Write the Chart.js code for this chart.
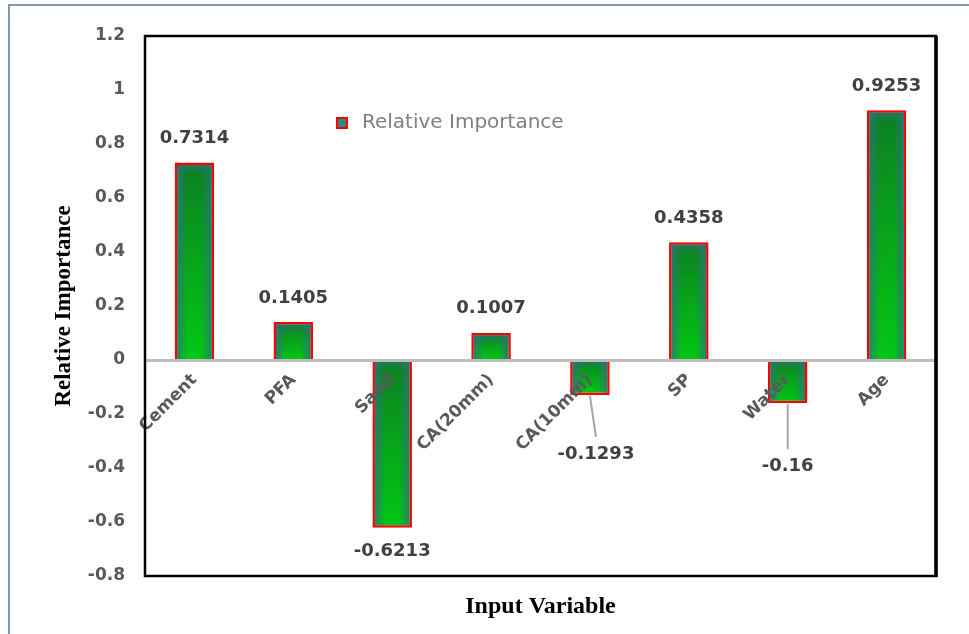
<!DOCTYPE html>
<html>
<head>
<meta charset="utf-8">
<title>Relative Importance</title>
<script src="https://cdn.jsdelivr.net/npm/chart.js@4/dist/chart.umd.min.js"></script>
<style>
    html, body { margin: 0; padding: 0; background: #fff; }
    #marco {
        position: absolute; left: 8px; top: 4px; width: 961px; height: 630px;
        border-left: 2px solid #8497b0; border-top: 2px solid #8497b0;
        box-sizing: border-box;
    }
    #contenedor { position: absolute; left: 0; top: 0; width: 969px; height: 634px; }
</style>
</head>
<body>
<div id="marco"></div>
<div id="contenedor"><canvas id="graficoImportancia" width="969" height="634"></canvas></div>
<script>
// Datos del gráfico
const variables = ['Cement', 'PFA', 'Sand', 'CA(20mm)', 'CA(10mm)', 'SP', 'Water', 'Age'];
const importancia = [0.7314, 0.1405, -0.6213, 0.1007, -0.1293, 0.4358, -0.16, 0.9253];
const ejeMin = -0.8;
const ejeMax = 1.2;
const ejePaso = 0.2;

// Relleno degradado de cada barra (oscuro arriba, verde vivo abajo)
function rellenoBarra(context) {
    const chart = context.chart;
    const escalaY = chart.scales.y;
    if (!escalaY || !chart.chartArea) return '#0a9a1a';
    const v = context.raw;
    const arriba = escalaY.getPixelForValue(Math.max(v, 0));
    const abajo = escalaY.getPixelForValue(Math.min(v, 0));
    const g = chart.ctx.createLinearGradient(0, arriba, 0, abajo);
    g.addColorStop(0, '#0b7f22');
    g.addColorStop(0.5, '#07a51a');
    g.addColorStop(1, '#02c814');
    return g;
}

// Bordes verdeazulados dentro de cada barra
const sombraBarras = {
    id: 'sombraBarras',
    afterDatasetsDraw(chart) {
        const ctx = chart.ctx;
        const meta = chart.getDatasetMeta(0);
        meta.data.forEach(bar => {
            const p = bar.getProps(['x', 'y', 'base', 'width'], true);
            const izq = p.x - p.width / 2 + 2.5;
            const der = p.x + p.width / 2 - 2.5;
            const top = Math.min(p.y, p.base) + (p.y < p.base ? 2.5 : 0);
            const bot = Math.max(p.y, p.base) - (p.y > p.base ? 2.5 : 0);
            const g = ctx.createLinearGradient(izq, 0, der, 0);
            g.addColorStop(0, 'rgba(45,115,125,0.8)');
            g.addColorStop(0.3, 'rgba(45,115,125,0)');
            g.addColorStop(0.7, 'rgba(45,115,125,0)');
            g.addColorStop(1, 'rgba(45,115,125,0.8)');
            ctx.save();
            ctx.fillStyle = g;
            ctx.fillRect(izq, top, der - izq, bot - top);
            // franja superior algo más apagada
            const gv = ctx.createLinearGradient(0, top, 0, top + 10);
            gv.addColorStop(0, 'rgba(45,115,125,0.6)');
            gv.addColorStop(1, 'rgba(45,115,125,0)');
            ctx.fillStyle = gv;
            ctx.fillRect(izq, top, der - izq, Math.min(10, bot - top));
            ctx.restore();
        });
    }
};

// Etiquetas de valor sobre/bajo las barras, con líneas guía opcionales
const etiquetasValor = {
    id: 'etiquetasValor',
    afterDraw(chart, args, opts) {
        const ctx = chart.ctx;
        const meta = chart.getDatasetMeta(0);
        const datos = chart.data.datasets[0].data;
        ctx.save();
        ctx.font = opts.font;
        ctx.fillStyle = opts.color;
        ctx.textAlign = 'center';
        ctx.textBaseline = 'middle';
        meta.data.forEach((bar, i) => {
            const v = datos[i];
            const p = bar.getProps(['x', 'y'], true);
            const guia = opts.guias[i];
            let tx = p.x;
            let ty = v >= 0 ? p.y - opts.separacion : p.y + opts.separacion;
            if (guia) {
                tx = p.x + guia.dx;
                ty = p.y + guia.dy;
                ctx.strokeStyle = '#a6a6a6';
                ctx.lineWidth = 2;
                ctx.beginPath();
                ctx.moveTo(p.x, p.y + 1);
                ctx.lineTo(tx, ty - 17);
                ctx.stroke();
            }
            ctx.fillText(v.toString(), tx, ty);
        });
        ctx.restore();
    }
};

// Marco negro del área de trazado y título del eje horizontal
const marcoArea = {
    id: 'marcoArea',
    afterDraw(chart, args, opts) {
        const a = chart.chartArea;
        const ctx = chart.ctx;
        ctx.save();
        ctx.strokeStyle = '#000';
        ctx.lineWidth = 2.5;
        ctx.strokeRect(a.left, a.top, a.right - a.left, a.bottom - a.top);
        ctx.lineWidth = 3.5;
        ctx.beginPath();
        ctx.moveTo(a.right, a.top);
        ctx.lineTo(a.right, a.bottom + 1);
        ctx.stroke();
        ctx.font = opts.font;
        ctx.fillStyle = '#000';
        ctx.textAlign = 'center';
        ctx.textBaseline = 'middle';
        ctx.fillText(opts.titulo, (a.left + a.right) / 2, a.bottom + opts.separacion);
        ctx.restore();
    }
};

// Leyenda dentro del área de trazado
const leyendaInterior = {
    id: 'leyendaInterior',
    afterDraw(chart, args, opts) {
        const a = chart.chartArea;
        const ctx = chart.ctx;
        const x = a.left + opts.dx;
        const y = a.top + opts.dy;
        ctx.save();
        ctx.fillStyle = '#2e8b80';
        ctx.fillRect(x, y - 5, 10, 10);
        ctx.strokeStyle = '#ff0000';
        ctx.lineWidth = 2;
        ctx.strokeRect(x, y - 5, 10, 10);
        ctx.font = opts.font;
        ctx.fillStyle = '#808080';
        ctx.textBaseline = 'middle';
        ctx.fillText(chart.data.datasets[0].label, x + 25, y);
        ctx.restore();
    }
};

function generarGraficoImportancia() {
    const ctx = document.getElementById('graficoImportancia').getContext('2d');

    const data = {
        labels: variables,
        datasets: [{
            label: 'Relative Importance',
            data: importancia,
            backgroundColor: rellenoBarra,
            borderColor: '#ff0000',
            borderWidth: 2.5,
            categoryPercentage: 0.8,
            barPercentage: 0.5
        }]
    };

    const config = {
        type: 'bar',
        data: data,
        plugins: [sombraBarras, etiquetasValor, marcoArea, leyendaInterior],
        options: {
            responsive: false,
            animation: false,
            layout: {
                padding: { top: 36, right: 33, left: 0, bottom: 58 }
            },
            scales: {
                x: {
                    position: { y: 0 },
                    grid: { display: false, drawTicks: false },
                    border: { display: true, color: '#bfbfbf', width: 3, z: 1 },
                    ticks: {
                        z: 1,
                        minRotation: 45,
                        maxRotation: 45,
                        padding: 10,
                        color: '#595959',
                        font: { family: 'DejaVu Sans', size: 17, weight: 'bold' }
                    }
                },
                y: {
                    min: ejeMin,
                    max: ejeMax,
                    afterFit(scale) { scale.width = 145; },
                    grid: { display: false, drawTicks: false },
                    border: { display: false },
                    ticks: {
                        stepSize: ejePaso,
                        padding: 20,
                        color: '#595959',
                        font: { family: 'DejaVu Sans', size: 17, weight: 'bold' },
                        callback: v => Number(v.toFixed(1)).toString()
                    },
                    title: {
                        display: true,
                        text: 'Relative Importance',
                        color: '#000',
                        padding: { top: 50, bottom: 0 },
                        font: { family: 'Liberation Serif', size: 23, weight: 'bold' }
                    }
                }
            },
            plugins: {
                legend: { display: false },
                tooltip: { enabled: false },
                etiquetasValor: {
                    font: 'bold 18px "DejaVu Sans"',
                    color: '#404040',
                    separacion: 24,
                    guias: { 4: { dx: 6, dy: 59 }, 6: { dx: 0, dy: 63 } }
                },
                marcoArea: {
                    titulo: 'Input Variable',
                    font: 'bold 24px "Liberation Serif"',
                    separacion: 31
                },
                leyendaInterior: {
                    dx: 192,
                    dy: 87,
                    font: '20px "DejaVu Sans"'
                }
            }
        }
    };

    new Chart(ctx, config);
}

document.addEventListener('DOMContentLoaded', function() {
    if (typeof Chart !== 'undefined') {
        generarGraficoImportancia();
    } else {
        console.error('Chart.js no está cargado.');
    }
});
</script>
</body>
</html>
